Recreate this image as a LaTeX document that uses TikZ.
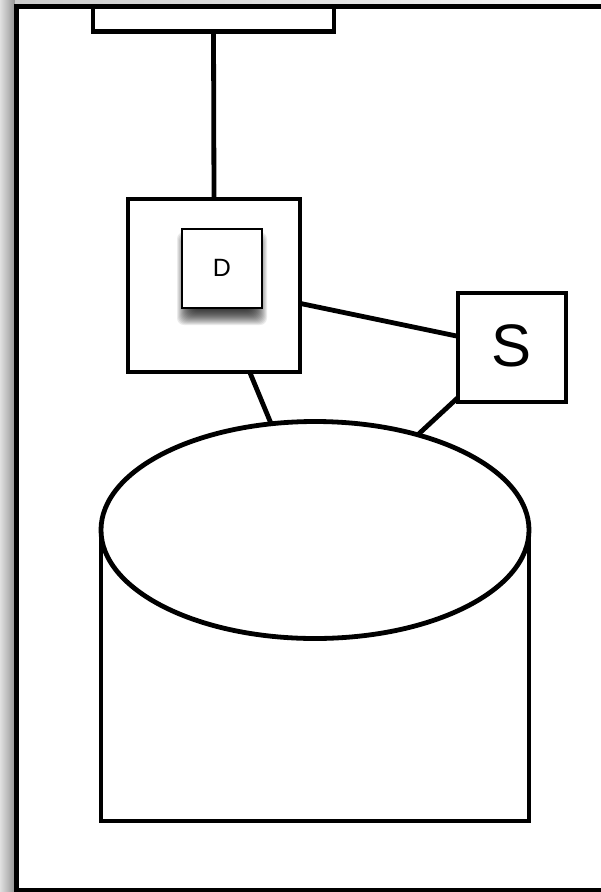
\documentclass[tikz,border=0pt]{standalone}
\usepackage{fontspec}
\setmainfont{Liberation Sans}
\usetikzlibrary{shapes.geometric}
\definecolor{edgeL}{gray}{0.88}
\definecolor{edgeD}{gray}{0.58}
\definecolor{topL}{gray}{0.80}
\definecolor{topR}{gray}{0.97}
\tikzset{
  every node/.style={outer sep=0pt,inner sep=0pt},
  thick line/.style={line width=4.8pt,draw=black},
  plain box/.style={thick line,fill=white,rectangle},
}
\begin{document}
\begin{tikzpicture}[x=1pt,y=-1pt]
\useasboundingbox (0,0) rectangle (601,892);
\clip (0,0) rectangle (601,892);
\fill[white] (0,0) rectangle (601,892);
% soft shadow of the outer frame
\shade[left color=edgeL,right color=edgeD] (0,0) rectangle (15,892);
\shade[left color=topL,right color=topR] (15,0) rectangle (601,5);
% outer frame, its right side lies beyond the picture
\node[plain box,minimum width=620pt,minimum height=883.5pt,anchor=north west] (frame) at (16.5,6.7) {};
% top bar
\node[plain box,minimum width=241pt,minimum height=24.5pt,anchor=north west] (bar) at (93,6.7) {};
% cylinder body and top
\node[plain box,minimum width=428pt,minimum height=291pt,anchor=north west] (body) at (101,530) {};
\node[plain box,ellipse,minimum width=428pt,minimum height=217pt] (cyl) at (315,530) {};
% main boxes
\node[plain box,minimum width=172pt,minimum height=173pt] (box) at (214,285.5) {};
\node[plain box,minimum width=108pt,minimum height=109pt] (s) at (512,347.5) {\raisebox{4pt}{\fontsize{60}{60}\selectfont S}};
% connectors
\draw[thick line] (bar.south) -- (box.north);
\draw[thick line] (box) -- (s);
\draw[thick line] (box) -- (cyl);
\draw[thick line] (s) -- (cyl);
% blurred shadow under D
\foreach \i in {0,...,15}{
  \fill[black,opacity=0.08,rounded corners=7pt]
    (177+\i,232+\i) rectangle (267-\i,325-\i);
}
\node[draw=black,line width=2.6pt,fill=white,rectangle,minimum width=80pt,minimum height=79pt] (d) at (222,268.5) {\raisebox{1pt}{\fontsize{25}{25}\selectfont D}};
\end{tikzpicture}
\end{document}
